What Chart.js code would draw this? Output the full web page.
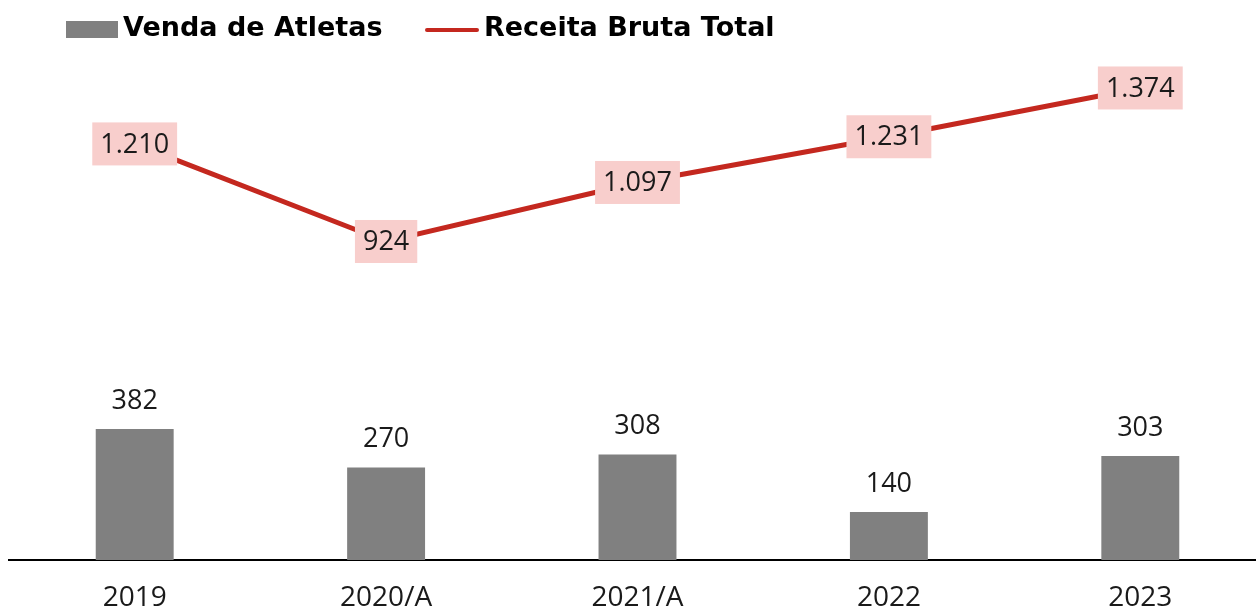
<!DOCTYPE html>
<html><head><meta charset="utf-8">
<script src="https://cdn.jsdelivr.net/npm/chart.js@4.4.1/dist/chart.umd.min.js"></script>
<style>
html,body{margin:0;padding:0;background:#fff;overflow:hidden;width:1256px;height:608px}
#wrap{position:absolute;left:0;top:0;width:1266px;height:608px}
</style></head>
<body><div id="wrap"><canvas id="c" width="1266" height="608"></canvas></div>
<script>
const categories = ['2019', '2020/A', '2021/A', '2022', '2023'];
const vendaAtletas = [382, 270, 308, 140, 303];
const receitaBruta = [1210, 924, 1097, 1231, 1374];
const seriesNames = ['Venda de Atletas', 'Receita Bruta Total'];

const FONT = "'Open Sans', sans-serif";
const LEGEND_FONT = "'DejaVu Sans', sans-serif";
const fmt = v => String(v).replace(/\B(?=(\d{3})+(?!\d))/g, '.');

const labelPlugin = {
  id: 'labels',
  afterDatasetsDraw(chart) {
    const ctx = chart.ctx;
    ctx.save();
    ctx.font = '27px ' + FONT;
    ctx.textAlign = 'center';
    ctx.textBaseline = 'middle';
    chart.getDatasetMeta(0).data.forEach((el, i) => {
      ctx.fillStyle = '#1a1a1a';
      ctx.fillText(fmt(vendaAtletas[i]), el.x, el.y - 28);
    });
    chart.getDatasetMeta(1).data.forEach((el, i) => {
      const t = fmt(receitaBruta[i]);
      const w = ctx.measureText(t).width + 16;
      const h = 43;
      ctx.fillStyle = '#F8CECC';
      ctx.fillRect(el.x - w / 2, el.y - h / 2, w, h);
      ctx.fillStyle = '#1a1a1a';
      ctx.fillText(t, el.x, el.y + 1);
    });
    ctx.restore();
  }
};

const legendPlugin = {
  id: 'customLegend',
  afterDraw(chart) {
    const ctx = chart.ctx;
    ctx.save();
    ctx.font = 'bold 27px ' + LEGEND_FONT;
    ctx.textBaseline = 'middle';
    ctx.textAlign = 'left';
    ctx.fillStyle = '#808080';
    ctx.fillRect(66, 21, 52, 17);
    ctx.fillStyle = '#000';
    ctx.fillText(seriesNames[0], 123, 29);
    ctx.strokeStyle = '#C4281F';
    ctx.lineWidth = 4;
    ctx.lineCap = 'round';
    ctx.beginPath();
    ctx.moveTo(427, 30);
    ctx.lineTo(477, 30);
    ctx.stroke();
    ctx.fillStyle = '#000';
    ctx.fillText(seriesNames[1], 484, 29);
    ctx.restore();
  }
};

new Chart(document.getElementById('c'), {
  data: {
    labels: categories,
    datasets: [
      {
        type: 'bar',
        label: seriesNames[0],
        data: vendaAtletas,
        backgroundColor: '#808080',
        barPercentage: 0.31,
        categoryPercentage: 1,
        yAxisID: 'y',
        order: 2
      },
      {
        type: 'line',
        label: seriesNames[1],
        data: receitaBruta,
        borderColor: '#C4281F',
        borderWidth: 5,
        pointRadius: 0,
        tension: 0,
        yAxisID: 'y1',
        order: 1
      }
    ]
  },
  options: {
    responsive: false,
    animation: false,
    layout: { padding: { top: 60, left: 9, right: 0, bottom: 0 } },
    plugins: { legend: { display: false }, tooltip: { enabled: false } },
    scales: {
      x: {
        offset: true,
        grid: { display: false, drawTicks: false },
        border: { display: true, color: '#000', width: 2 },
        ticks: { color: '#1a1a1a', font: { family: FONT, size: 28 }, padding: 21 },
        afterFit(axis) { axis.height = 48; }
      },
      y: { display: false, min: 0, max: 1458 },
      y1: { display: false, min: -9.7, max: 1456 }
    }
  },
  plugins: [labelPlugin, legendPlugin]
});
</script>
</body></html>
